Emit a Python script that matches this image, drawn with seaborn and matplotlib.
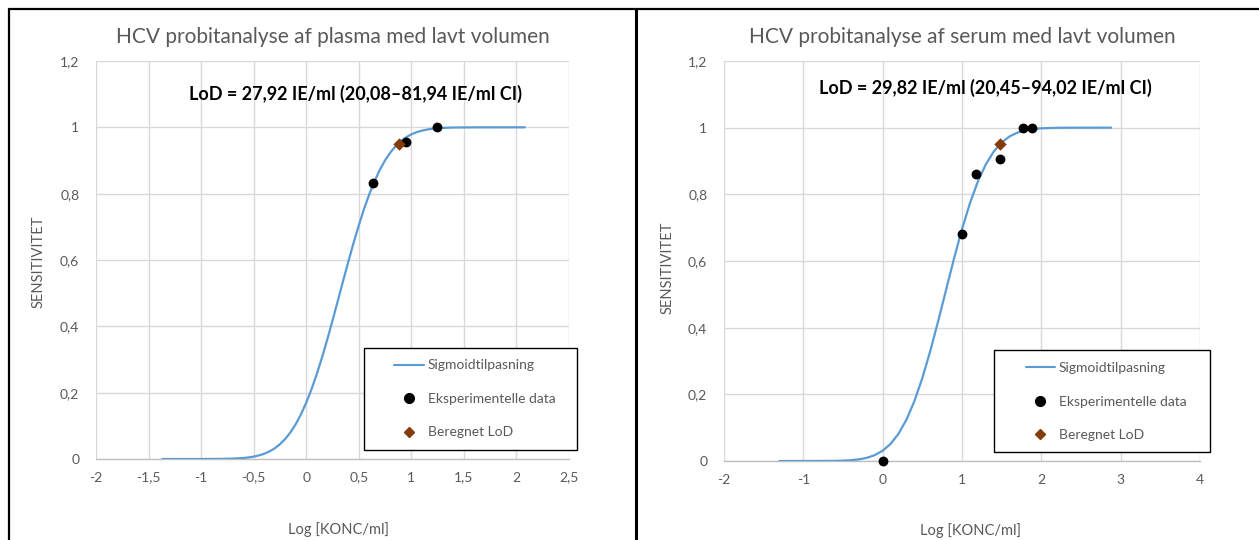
import matplotlib
matplotlib.use("Agg")
import matplotlib.pyplot as plt
from matplotlib.lines import Line2D
from matplotlib.patches import Rectangle
import pandas as pd
import seaborn as sns

# ---------------- data ----------------
plasma_fit_x = [-1.37, -1.0, -0.8, -0.7, -0.6, -0.55, -0.5, -0.45, -0.4, -0.35, -0.3, -0.25,
                -0.2, -0.15, -0.1, -0.05, 0.0, 0.05, 0.1, 0.15, 0.2, 0.25, 0.3, 0.35, 0.4,
                0.45, 0.5, 0.55, 0.6, 0.65, 0.7, 0.75, 0.8, 0.85, 0.9, 0.95, 1.0, 1.05,
                1.1, 1.15, 1.2, 1.3, 1.4, 1.6, 1.8, 2.08]
plasma_fit_y = [0.0, 0.0, 0.0004, 0.0012, 0.0030, 0.0047, 0.0072, 0.0108, 0.0158, 0.0228,
                0.0321, 0.0445, 0.0603, 0.0803, 0.1049, 0.1347, 0.1698, 0.2101, 0.2556,
                0.3059, 0.3602, 0.4172, 0.4761, 0.5357, 0.5944, 0.6510, 0.7044, 0.7539,
                0.7984, 0.8377, 0.8717, 0.9004, 0.9241, 0.9432, 0.9583, 0.9700, 0.9788,
                0.9853, 0.9900, 0.9934, 0.9957, 0.9983, 0.9994, 0.9999, 1.0, 1.0]
plasma_data_x = [0.635, 0.95, 1.245]
plasma_data_y = [0.832, 0.956, 1.0]
plasma_lod_x = [0.88]
plasma_lod_y = [0.95]

serum_fit_x = [-1.3, -1.0, -0.8, -0.6, -0.5, -0.4, -0.3, -0.2, -0.1, 0.0, 0.1, 0.2, 0.3,
               0.4, 0.5, 0.6, 0.7, 0.8, 0.9, 1.0, 1.1, 1.2, 1.3, 1.4, 1.5, 1.6, 1.7, 1.8,
               1.9, 2.0, 2.2, 2.4, 2.88]
serum_fit_y = [0.0, 0.0, 0.0001, 0.0005, 0.0011, 0.0024, 0.0049, 0.0095, 0.0176, 0.0308,
               0.0514, 0.0818, 0.1241, 0.1797, 0.2487, 0.3298, 0.4199, 0.5142, 0.6079,
               0.6957, 0.7734, 0.8385, 0.8899, 0.9284, 0.9556, 0.9738, 0.9853, 0.9922,
               0.9960, 0.9981, 0.9996, 0.9999, 1.0]
serum_data_x = [0.0, 1.0, 1.18, 1.48, 1.77, 1.88]
serum_data_y = [0.0, 0.682, 0.862, 0.907, 1.0, 1.0]
serum_lod_x = [1.478]
serum_lod_y = [0.951]

titles = ["HCV probitanalyse af plasma med lavt volumen",
          "HCV probitanalyse af serum med lavt volumen"]
lod_texts = ["LoD = 27,92 IE/ml (20,08\u201381,94 IE/ml CI)",
             "LoD = 29,82 IE/ml (20,45\u201394,02 IE/ml CI)"]
legend_labels = ["Sigmoidtilpasning", "Eksperimentelle data", "Beregnet LoD"]
x_label = "Log [KONC/ml]"
y_label = "SENSITIVITET"

plasma_xticks = [-2, -1.5, -1, -0.5, 0, 0.5, 1, 1.5, 2, 2.5]
plasma_xticklabels = ["-2", "-1,5", "-1", "-0,5", "0", "0,5", "1", "1,5", "2", "2,5"]
serum_xticks = [-2, -1, 0, 1, 2, 3, 4]
serum_xticklabels = ["-2", "-1", "0", "1", "2", "3", "4"]
yticks = [0, 0.2, 0.4, 0.6, 0.8, 1.0, 1.2]
yticklabels = ["0", "0,2", "0,4", "0,6", "0,8", "1", "1,2"]

# ---------------- style ----------------
sns.set_style("white")
FONT = ["Lato", "DejaVu Sans"]
plt.rcParams["font.family"] = FONT

BLUE = "#5B9BD5"
BROWN = "#843C0C"
GRAY_TXT = "#595959"
GRID = "#d9d9d9"

W, H = 1259, 540
fig = plt.figure(figsize=(W / 100, H / 100), dpi=100)


def px_rect(l, r, t, b):
    return [l / W, 1 - b / H, (r - l) / W, (b - t) / H]


def draw_panel(ax, fit_x, fit_y, dx, dy, lx, ly, xticks, xticklabels, title, lod,
               lod_pos, leg_rect, leg_center):
    sns.lineplot(x=fit_x, y=fit_y, ax=ax, color=BLUE, lw=1.6, legend=False,
                 sort=False, zorder=3)
    sns.scatterplot(x=dx, y=dy, ax=ax, color="black", s=50, marker="o",
                    edgecolor="black", linewidth=0, zorder=4, clip_on=False,
                    legend=False)
    sns.scatterplot(x=lx, y=ly, ax=ax, color=BROWN, s=40, marker="D",
                    edgecolor=BROWN, linewidth=0, zorder=5, clip_on=False,
                    legend=False)
    ax.set_xlim(xticks[0], xticks[-1])
    ax.set_ylim(0, 1.2)
    ax.set_xticks(xticks)
    ax.set_xticklabels(xticklabels)
    ax.set_yticks(yticks)
    ax.set_yticklabels(yticklabels)
    ax.grid(True, color=GRID, lw=1.0)
    ax.set_axisbelow(True)
    for s in ["top", "right", "left"]:
        ax.spines[s].set_visible(False)
    ax.spines["bottom"].set_color("#bfbfbf")
    ax.spines["bottom"].set_linewidth(1.0)
    ax.tick_params(axis="both", length=0, labelsize=10, colors=GRAY_TXT)
    ax.tick_params(axis="x", pad=9)
    ax.tick_params(axis="y", pad=12)
    ax.set_xlabel("")
    ax.set_ylabel("")
    ax.set_title(title, fontsize=15, color=GRAY_TXT, pad=13)
    ax.text(lod_pos[0], lod_pos[1], lod, transform=ax.transAxes, ha="center",
            va="center", fontsize=13, fontweight="bold", color="black")
    ax.add_patch(Rectangle((leg_rect[0], leg_rect[1]), leg_rect[2], leg_rect[3],
                           transform=ax.transAxes, facecolor="white",
                           edgecolor="black", lw=1.0, clip_on=False, zorder=6))
    handles = [Line2D([], [], color=BLUE, lw=1.5),
               Line2D([], [], color="black", marker="o", ls="none", markersize=7),
               Line2D([], [], color=BROWN, marker="D", ls="none", markersize=5.5)]
    leg = ax.legend(handles, legend_labels, loc="center", bbox_to_anchor=leg_center,
                    bbox_transform=ax.transAxes, frameon=False, fontsize=10,
                    labelcolor=GRAY_TXT, handlelength=2.1, handletextpad=0.3,
                    labelspacing=1.55, borderpad=0)
    leg.set_zorder(7)


ax1 = fig.add_axes(px_rect(96, 569, 61, 459))
draw_panel(ax1, plasma_fit_x, plasma_fit_y, plasma_data_x, plasma_data_y,
           plasma_lod_x, plasma_lod_y, plasma_xticks, plasma_xticklabels,
           titles[0], lod_texts[0], (0.549, 0.917),
           (0.567, 0.0226, 0.450, 0.256), (0.801, 0.151))

ax2 = fig.add_axes(px_rect(724, 1200, 61, 461))
draw_panel(ax2, serum_fit_x, serum_fit_y, serum_data_x, serum_data_y,
           serum_lod_x, serum_lod_y, serum_xticks, serum_xticklabels,
           titles[1], lod_texts[1], (0.549, 0.933),
           (0.567, 0.0225, 0.454, 0.255), (0.8025, 0.148))

# axis titles
fig.text(338 / W, 1 - 530 / H, x_label, ha="center", va="center", fontsize=10.5,
         color=GRAY_TXT)
fig.text(970 / W, 1 - 531 / H, x_label, ha="center", va="center", fontsize=10.5,
         color=GRAY_TXT)
fig.text(39 / W, 1 - 262 / H, y_label, ha="center", va="center", rotation=90,
         fontsize=10.5, color=GRAY_TXT)
fig.text(668 / W, 1 - 268 / H, y_label, ha="center", va="center", rotation=90,
         fontsize=10.5, color=GRAY_TXT)

# panel borders
lw = 1.6
fig.add_artist(Line2D([8.5 / W, 8.5 / W], [0, 1 - 8.5 / H], color="black", lw=lw,
                      transform=fig.transFigure))
fig.add_artist(Line2D([8.5 / W, 1], [1 - 8.5 / H, 1 - 8.5 / H], color="black", lw=lw,
                      transform=fig.transFigure))
fig.add_artist(Line2D([636.5 / W, 636.5 / W], [0, 1 - 8.5 / H], color="black", lw=2.2,
                      transform=fig.transFigure))

fig.savefig("out.png", dpi=100, facecolor="white")
